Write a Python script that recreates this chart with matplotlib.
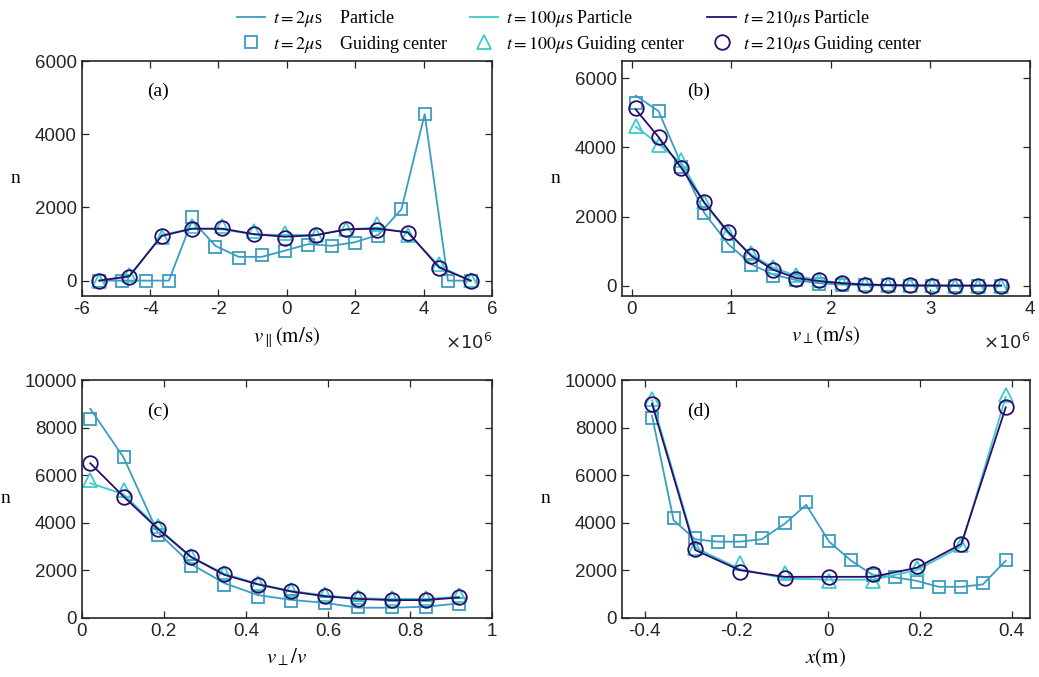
import numpy as np
import matplotlib
matplotlib.use("Agg")
import matplotlib.pyplot as plt
from matplotlib.lines import Line2D

plt.rcParams['font.family'] = ['Liberation Sans', 'DejaVu Sans']
plt.rcParams['mathtext.fontset'] = 'stix'
plt.rcParams['axes.unicode_minus'] = False

# colours of the three times
c2 = '#3a9dc0'
c100 = '#3ccbcc'
c210 = '#2c0c6b'

# ---- panel (a): v_parallel (units of 1e6 m/s)
a_x13 = [-5.48, -4.61, -3.66, -2.77, -1.89, -0.96, -0.06, 0.84, 1.74, 2.64, 3.54, 4.45, 5.37]
a_x17 = [-5.49, -4.81, -4.13, -3.45, -2.77, -2.09, -1.41, -0.73, -0.05, 0.63, 1.31, 1.99, 2.67, 3.35, 4.03, 4.71, 5.39]
a_p2 = [0, 0, 0, 0, 1650, 950, 650, 650, 820, 1000, 950, 1050, 1250, 1950, 4550, 0, 0]
a_g2 = [0, 0, 0, 0, 1745, 910, 620, 710, 800, 980, 955, 1035, 1220, 1945, 4565, 0, 0]
a_p100 = [0, 100, 1250, 1420, 1400, 1260, 1250, 1250, 1400, 1450, 1300, 400, 0]
a_g100 = [0, 160, 1200, 1500, 1480, 1360, 1300, 1250, 1420, 1550, 1250, 450, 30]
a_p210 = [0, 120, 1220, 1420, 1420, 1270, 1200, 1240, 1400, 1420, 1320, 360, 0]
a_g210 = [0, 110, 1220, 1420, 1445, 1280, 1155, 1240, 1410, 1375, 1300, 345, 0]

# ---- panel (b): v_perp (units of 1e6 m/s)
b_x = [0.04, 0.27, 0.50, 0.73, 0.97, 1.20, 1.42, 1.65, 1.88, 2.11, 2.34, 2.57, 2.79, 3.02, 3.25, 3.48, 3.71]
b_p2 = [5500, 5050, 3500, 2100, 1200, 620, 320, 160, 70, 30, 10, 5, 0, 0, 0, 0, 0]
b_g2 = [5275, 5045, 3440, 2090, 1140, 590, 290, 150, 60, 30, 10, 5, 0, 0, 0, 0, 0]
b_p100 = [4600, 4100, 3550, 2400, 1500, 900, 520, 290, 150, 80, 40, 20, 10, 5, 0, 0, 0]
b_g100 = [4620, 4070, 3630, 2420, 1510, 930, 540, 300, 155, 80, 40, 20, 10, 5, 0, 0, 0]
b_p210 = [5100, 4300, 3400, 2400, 1550, 860, 460, 220, 130, 70, 30, 15, 5, 0, 0, 0, 0]
b_g210 = [5150, 4310, 3410, 2425, 1555, 860, 465, 195, 155, 75, 30, 15, 5, 0, 0, 0, 0]

# ---- panel (c): v_perp / v
c_x = [0.021, 0.102, 0.185, 0.267, 0.348, 0.430, 0.511, 0.594, 0.674, 0.755, 0.838, 0.919]
c_p2 = [8790, 6750, 3600, 2250, 1450, 950, 750, 620, 420, 420, 460, 600]
c_g2 = [8365, 6750, 3470, 2175, 1360, 885, 700, 630, 435, 435, 465, 560]
c_p100 = [5660, 5200, 3800, 2550, 1850, 1420, 1130, 930, 820, 790, 790, 880]
c_g100 = [5800, 5380, 3850, 2600, 1860, 1460, 1180, 980, 860, 820, 820, 940]
c_p210 = [6500, 5100, 3750, 2550, 1800, 1400, 1100, 900, 790, 740, 740, 850]
c_g210 = [6525, 5095, 3720, 2540, 1825, 1390, 1110, 900, 785, 745, 745, 885]

# ---- panel (d): x (m)
d_x9 = [-0.384, -0.290, -0.193, -0.095, 0.002, 0.097, 0.193, 0.290, 0.387]
d_x17 = [-0.384, -0.337, -0.290, -0.241, -0.193, -0.145, -0.095, -0.048, 0.002,
         0.050, 0.097, 0.145, 0.193, 0.241, 0.290, 0.337, 0.387]
d_p2 = [8500, 4100, 3300, 3200, 3200, 3300, 3950, 4750, 3200, 2400, 1800, 1700, 1550, 1300, 1300, 1400, 2400]
d_g2 = [8390, 4180, 3370, 3185, 3240, 3370, 3970, 4885, 3240, 2430, 1795, 1725, 1490, 1280, 1305, 1445, 2430]
d_p100 = [9150, 2950, 2050, 1650, 1600, 1600, 2000, 3000, 9300]
d_g100 = [9190, 2920, 2290, 1895, 1560, 1560, 2080, 3060, 9375]
d_p210 = [9000, 2850, 2000, 1720, 1720, 1720, 2100, 3100, 8850]
d_g210 = [9000, 2880, 1935, 1685, 1725, 1825, 2190, 3100, 8855]

fig = plt.figure(figsize=(10.39, 6.77), dpi=100)
ax_a = fig.add_axes([0.0786, 0.5628, 0.395, 0.347])
ax_b = fig.add_axes([0.5984, 0.5628, 0.393, 0.347])
ax_c = fig.add_axes([0.0786, 0.0876, 0.395, 0.351])
ax_d = fig.add_axes([0.5984, 0.0876, 0.393, 0.351])

lw = 1.3
msq, mtri, mcir = 9, 10, 10.5


def draw(ax, xs, xl, p2, g2, p100, g100, p210, g210, scale=1.0):
    xs = np.array(xs) * scale
    xl = np.array(xl) * scale
    ax.plot(xs, p2, '-', color=c2, lw=lw)
    ax.plot(xs, g2, 's', color=c2, mfc='none', ms=msq, mew=1.3)
    ax.plot(xl, p100, '-', color=c100, lw=lw)
    ax.plot(xl, g100, '^', color=c100, mfc='none', ms=mtri, mew=1.3)
    ax.plot(xl, p210, '-', color=c210, lw=lw)
    ax.plot(xl, g210, 'o', color=c210, mfc='none', ms=mcir, mew=1.3)


draw(ax_a, a_x17, a_x13, a_p2, a_g2, a_p100, a_g100, a_p210, a_g210, 1e6)
draw(ax_b, b_x, b_x, b_p2, b_g2, b_p100, b_g100, b_p210, b_g210, 1e6)
draw(ax_c, c_x, c_x, c_p2, c_g2, c_p100, c_g100, c_p210, c_g210)
draw(ax_d, d_x17, d_x9, d_p2, d_g2, d_p100, d_g100, d_p210, d_g210)

ax_a.set_xlim(-6e6, 6e6)
ax_a.set_ylim(-420, 6000)
ax_a.set_xticks(np.arange(-6, 7, 2) * 1e6)
ax_a.set_xticklabels([str(v) for v in range(-6, 7, 2)])
ax_a.set_yticks([0, 2000, 4000, 6000])

ax_b.set_xlim(-0.1e6, 4e6)
ax_b.set_ylim(-300, 6500)
ax_b.set_xticks(np.arange(0, 5, 1) * 1e6)
ax_b.set_xticklabels([str(v) for v in range(0, 5)])
ax_b.set_yticks([0, 2000, 4000, 6000])

ax_c.set_xlim(0, 1)
ax_c.set_ylim(0, 10000)
ax_c.set_xticks([0, 0.2, 0.4, 0.6, 0.8, 1])
ax_c.set_xticklabels(['0', '0.2', '0.4', '0.6', '0.8', '1'])
ax_c.set_yticks(np.arange(0, 10001, 2000))

ax_d.set_xlim(-0.45, 0.44)
ax_d.set_ylim(0, 10000)
ax_d.set_xticks([-0.4, -0.2, 0, 0.2, 0.4])
ax_d.set_xticklabels(['-0.4', '-0.2', '0', '0.2', '0.4'])
ax_d.set_yticks(np.arange(0, 10001, 2000))

# x10^6 exponent under the right end of the top axes
for ax in (ax_a, ax_b):
    t = ax.text(1.0, -0.2, r'$\times10^{6}$', transform=ax.transAxes,
                ha='right', va='center', fontsize=13, color='#262626')
    t.set_math_fontfamily('dejavusans')

xlabels = [r'$v_{\parallel}(\mathrm{m/s})$', r'$v_{\perp}(\mathrm{m/s})$',
           r'$v_{\perp}/v$', r'$x(\mathrm{m})$']
tags = ['(a)', '(b)', '(c)', '(d)']
for ax, xl, tg in zip((ax_a, ax_b, ax_c, ax_d), xlabels, tags):
    ax.tick_params(direction='in', top=True, right=True, labelsize=13.5,
                   colors='#262626', length=5, width=0.9)
    for s in ax.spines.values():
        s.set_color('#262626')
        s.set_linewidth(1.2)
    ax.set_xlabel(xl, fontsize=15, labelpad=5)
    ax.set_ylabel('n', fontsize=14, rotation=0, family='Liberation Serif',
                  labelpad=14, va='center')
    ax.text(0.16, 0.85, tg, transform=ax.transAxes, fontsize=14,
            family='Liberation Serif')

handles = [
    Line2D([], [], color=c2, lw=lw),
    Line2D([], [], color=c2, marker='s', ls='none', mfc='none', ms=msq, mew=1.3),
    Line2D([], [], color=c100, lw=lw),
    Line2D([], [], color=c100, marker='^', ls='none', mfc='none', ms=mtri, mew=1.3),
    Line2D([], [], color=c210, lw=lw),
    Line2D([], [], color=c210, marker='o', ls='none', mfc='none', ms=mcir, mew=1.3),
]
labels = [r'$t=2\mu$s    Particle', r'$t=2\mu$s    Guiding center',
          r'$t=100\mu$s Particle', r'$t=100\mu$s Guiding center',
          r'$t=210\mu$s Particle', r'$t=210\mu$s Guiding center']
leg = fig.legend(handles, labels, ncol=3, loc='upper center', bbox_to_anchor=(0.558, 1.012),
                 frameon=False, prop={'family': 'Liberation Serif', 'size': 13},
                 handlelength=1.6, handletextpad=0.4, columnspacing=1.2,
                 labelspacing=0.25)

fig.savefig('out.png', dpi=100)
